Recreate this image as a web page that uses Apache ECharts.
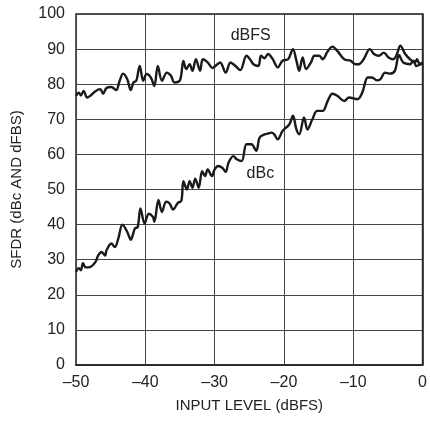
<!DOCTYPE html>
<html>
<head>
<meta charset="utf-8">
<script src="https://cdn.jsdelivr.net/npm/echarts@6/dist/echarts.min.js"></script>
<style>
html,body{margin:0;padding:0;background:#fff;}
#c{width:430px;height:425px;}
</style>
</head>
<body>
<div id="c"></div>
<script>
var xTicks = [-50, -40, -30, -20, -10, 0];
var yTicks = [0, 10, 20, 30, 40, 50, 60, 70, 80, 90, 100];

var dbfsX = [-50,-49.6,-49.3,-48.9,-48.4,-48,-47.2,-46.5,-46.1,-45.6,-44.9,-44.2,-43.7,-43.2,-42.6,-42.1,-41.7,-41.3,-40.8,-40.3,-39.8,-39.2,-38.7,-38.2,-37.6,-36.9,-36.3,-35.8,-35.0,-34.5,-34.1,-33.6,-33.2,-32.7,-32.1,-31.7,-31,-30.3,-29.6,-29.2,-28.4,-27.7,-27,-26.3,-25.4,-24.9,-24.4,-23.7,-23.3,-22.8,-22.3,-21.6,-20.9,-20.2,-19.4,-18.7,-18.2,-17.8,-17.3,-16.8,-16.1,-15.6,-14.9,-14.4,-13.7,-13,-12.3,-11.3,-10.4,-9.7,-9.2,-8.5,-7.6,-7,-6.3,-5.6,-4.9,-4.2,-3.7,-3.2,-2.5,-1.8,-1.1,-0.8,-0.4,0];
var dbfsY = [76.7,77.6,76.8,78.1,76.2,76.6,78.0,78.6,77.3,78.9,79.2,78.3,81,83,81.4,78.3,80.5,81,85.2,81,82.9,81.9,79.5,85.2,81,83.3,82.4,80.5,81.1,86.6,84.3,85.7,83.8,87.1,83.8,87.1,86.2,84.6,85.7,86.2,83.3,86.2,85.2,84.0,88.1,87.1,85.7,85.2,88.1,87.4,88.6,87.1,84.8,86.7,87.1,90,86.7,83.8,87.6,84.3,86.2,88.1,88.1,87.1,89.3,90.7,89.5,87.1,86.7,85.7,85.7,87.1,90,88.6,88.1,89,87.6,87.1,88.6,91,88.6,87.1,86.2,87.1,85.7,86.2];

var dbcX = [-50,-49.6,-49.3,-49,-48.6,-48,-47.2,-46.8,-46.3,-45.8,-45.6,-44.9,-44.4,-43.9,-43.3,-42.6,-42.1,-41.5,-41.1,-40.7,-40.1,-39.5,-38.9,-38.7,-38.1,-37.6,-37,-36.5,-36,-35.3,-34.8,-34.5,-34,-33.6,-33.2,-32.8,-32.3,-31.8,-31.4,-31,-30.4,-30,-29.5,-28.9,-28.4,-28,-27.3,-26.8,-26.1,-25.4,-24.7,-24,-23.5,-22.8,-22.3,-21.8,-21.4,-20.9,-20.2,-19.7,-19.2,-18.7,-18.2,-17.8,-17.1,-16.6,-15.9,-15.2,-14.4,-13.7,-13,-12.3,-11.3,-10.6,-9.4,-8.7,-7.9,-7.3,-6.6,-6.1,-5.4,-4.7,-4,-3.4,-2.8,-1.8,-1.3,-0.9,-0.2,0];
var dbcY = [26.5,27.6,27.0,29.0,27.8,27.9,29.3,31.2,32.2,31.2,32.7,34.6,33.6,36,40,37.9,35.7,38.9,39.3,44.6,40.3,43.1,42.2,40.8,47,43.6,46.5,46,44.3,46.2,46.8,52.4,50,52.4,50.5,53.1,50.5,55.2,53.8,55.7,53.8,55.7,56.7,56.2,55,57.6,59.5,58.6,58.1,62.9,62.9,61,64.8,65.7,65.9,66.2,65.7,64.3,66.7,67.6,68.6,71,67.1,65.7,70.5,67.1,70,72.4,72.4,75.2,77.3,76.7,75.2,76.2,75.7,77.6,81.9,81.9,81.1,81.4,83.3,83,83.8,88.3,86.2,85.7,86.7,85.2,85.7,85.8];

var labelDbfs = {text: 'dBFS', x: -24.8, y: 93.8};
var labelDbc = {text: 'dBc', x: -23.4, y: 54.4};

function zip(xs, ys) { return xs.map(function (v, i) { return [v, ys[i]]; }); }

var FONT = "'Liberation Sans Narrow', 'Liberation Sans', Arial, sans-serif";
var TXT = '#222';

var chart = echarts.init(document.getElementById('c'), null, {renderer: 'canvas'});
chart.setOption({
  animation: false,
  backgroundColor: '#fff',
  textStyle: {fontFamily: FONT, color: TXT},
  grid: {left: 76, right: 3, top: 14, bottom: 60, show: true, borderColor: '#222', borderWidth: 1.5, backgroundColor: 'transparent'},
  xAxis: {
    type: 'value', min: xTicks[0], max: xTicks[xTicks.length - 1], interval: 10,
    name: 'INPUT LEVEL (dBFS)', nameLocation: 'middle', nameGap: 33,
    nameTextStyle: {fontFamily: FONT, fontSize: 15, color: TXT},
    axisLine: {show: true, lineStyle: {color: '#222', width: 1.5}},
    axisTick: {show: false},
    axisLabel: {fontFamily: FONT, fontSize: 16, color: TXT, margin: 10,
      formatter: function (v) { return v < 0 ? '\u2013' + Math.abs(v) : String(v); }},
    splitLine: {show: true, lineStyle: {color: '#444', width: 1}}
  },
  yAxis: {
    type: 'value', min: yTicks[0], max: yTicks[yTicks.length - 1], interval: 10,
    name: 'SFDR (dBc AND dFBS)', nameLocation: 'middle', nameGap: 52, nameRotate: 90,
    nameTextStyle: {fontFamily: FONT, fontSize: 15, color: TXT},
    axisLine: {show: true, lineStyle: {color: '#222', width: 1.5}},
    axisTick: {show: false},
    axisLabel: {fontFamily: FONT, fontSize: 16, color: TXT, margin: 11},
    splitLine: {show: true, lineStyle: {color: '#444', width: 1}}
  },
  series: [
    {
      name: 'dBFS', type: 'line', data: zip(dbfsX, dbfsY), showSymbol: false, smooth: 0.35,
      lineStyle: {color: '#1a1a1a', width: 2.4}, z: 5,
      markPoint: {symbol: 'circle', symbolSize: 0, silent: true,
        label: {show: true, position: 'inside', formatter: labelDbfs.text, fontFamily: FONT, fontSize: 16, color: TXT},
        data: [{coord: [labelDbfs.x, labelDbfs.y]}]}
    },
    {
      name: 'dBc', type: 'line', data: zip(dbcX, dbcY), showSymbol: false, smooth: 0.35,
      lineStyle: {color: '#1a1a1a', width: 2.4}, z: 5,
      markPoint: {symbol: 'circle', symbolSize: 0, silent: true,
        label: {show: true, position: 'inside', formatter: labelDbc.text, fontFamily: FONT, fontSize: 16, color: TXT},
        data: [{coord: [labelDbc.x, labelDbc.y]}]}
    }
  ]
});
</script>
</body>
</html>
